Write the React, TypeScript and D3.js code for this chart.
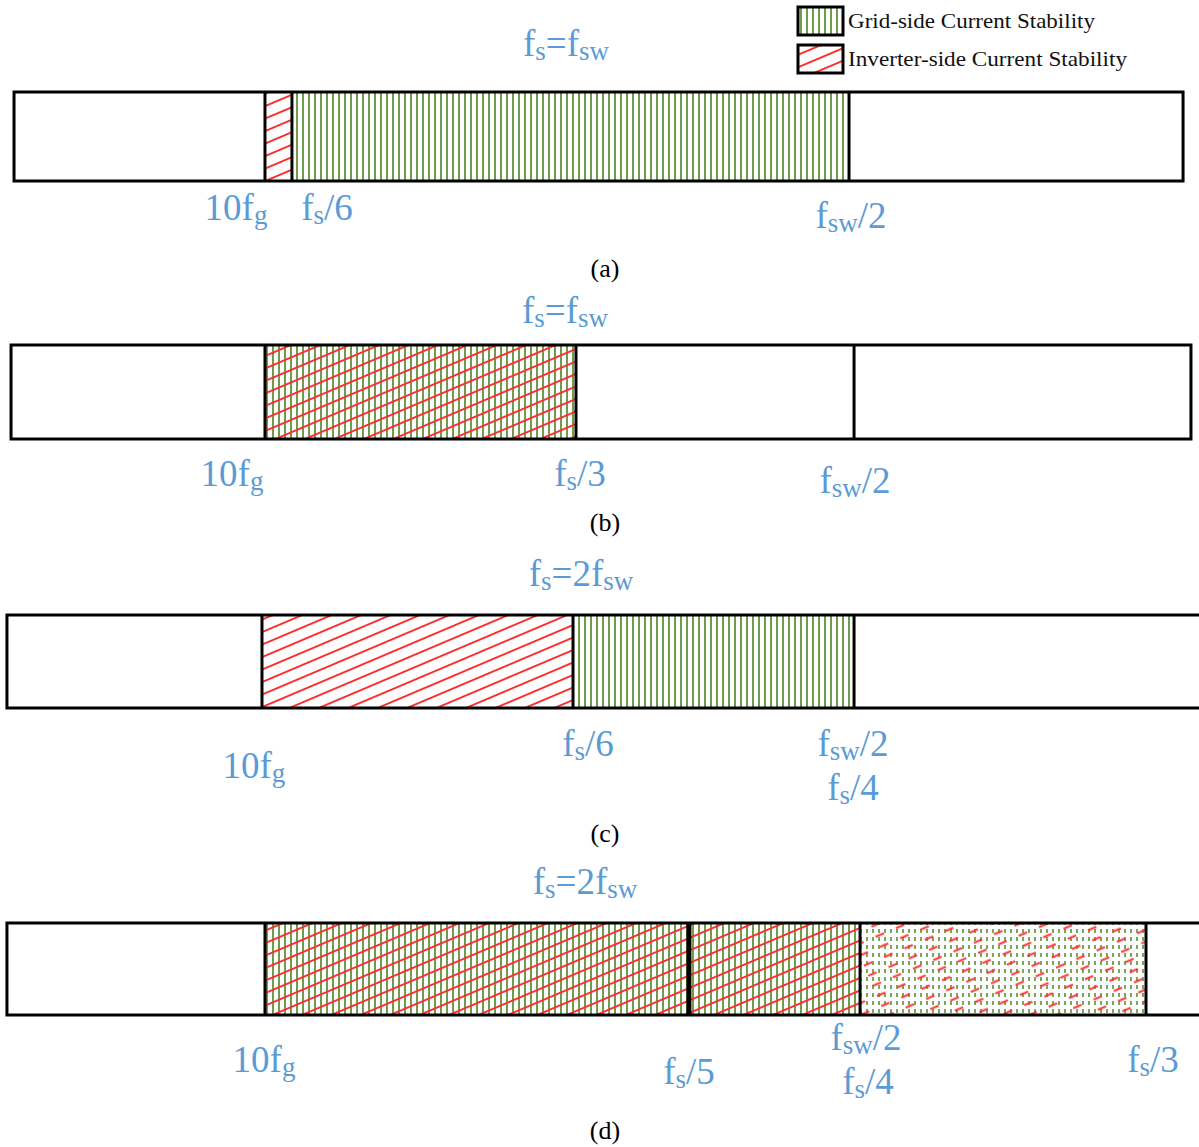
import React from "react";
import * as d3 from "d3";

// ---- data (horizontal positions in % of figure width) ----
const panelNames = ["(a)", "(b)", "(c)", "(d)"];
const barStart = [1.17, 0.92, 0.58, 0.58];
const barEnd = [98.67, 99.33, 100.3, 100.3];
const boundaries = [
  [22.1, 24.35, 70.81],
  [22.1, 48.04, 71.23],
  [21.85, 47.79, 71.23],
  [22.1, 57.46, 71.73, 95.58],
];
const boldBoundary = [[], [], [], [57.46]];
// shaded regions: [from, to, kind]
const regionsA = [[22.1, 24.35, "red"], [24.35, 70.81, "green"]];
const regionsB = [[22.1, 48.04, "both"]];
const regionsC = [[21.85, 47.79, "red"], [47.79, 71.23, "green"]];
const regionsD = [[22.1, 57.46, "both"], [57.46, 71.73, "both"], [71.73, 95.58, "dotted"]];
const regions = [regionsA, regionsB, regionsC, regionsD];
const titles = ["f_{s}=f_{sw}", "f_{s}=f_{sw}", "f_{s}=2f_{sw}", "f_{s}=2f_{sw}"];
const titleX = [47.21, 47.12, 48.46, 48.79];
// tick labels: [text, x%, row]
const labelsA = [["10f_{g}", 19.68, 0], ["f_{s}/6", 27.27, 0], ["f_{sw}/2", 70.98, 1]];
const labelsB = [["10f_{g}", 19.35, 0], ["f_{s}/3", 48.37, 0], ["f_{sw}/2", 71.31, 1]];
const labelsC = [["10f_{g}", 21.18, 1], ["f_{s}/6", 49.04, 0], ["f_{sw}/2", 71.14, 0], ["f_{s}/4", 71.14, 2]];
const labelsD = [["10f_{g}", 22.02, 1], ["f_{s}/5", 57.46, 2], ["f_{sw}/2", 72.23, 0], ["f_{s}/4", 72.39, 3], ["f_{s}/3", 96.16, 1]];
const tickLabels = [labelsA, labelsB, labelsC, labelsD];
const legendItems = ["Grid-side Current Stability", "Inverter-side Current Stability"];
const legendKinds = ["green", "red"];

// ---- layout ----
const W = 1199;
const H = 1147;
const barTop = [92, 345, 615, 923];
const barH = [89, 94, 93, 92];
const titleBase = [56, 323, 586, 894];
const labelRows = [
  [220, 228],
  [486, 493],
  [756, 778, 800],
  [1050, 1072, 1084, 1094],
];
const captionBase = [277, 531, 842, 1139];
const legendTextLen = [247, 279];

const GREEN = "#6e9c4a";
const RED = "#ff2e2e";
const BLUE = "#5b9bd5";
const SERIF = "'Liberation Serif', 'Times New Roman', serif";

const x = d3.scaleLinear().domain([0, 100]).range([0, W]);

function Rich({ text, size, sub }: { text: string; size: number; sub: number }) {
  const parts: { t: string; s: boolean }[] = [];
  const re = /_\{([^}]*)\}/g;
  let last = 0;
  let m;
  while ((m = re.exec(text))) {
    if (m.index > last) parts.push({ t: text.slice(last, m.index), s: false });
    parts.push({ t: m[1], s: true });
    last = m.index + m[0].length;
  }
  if (last < text.length) parts.push({ t: text.slice(last), s: false });
  let prevSub = false;
  return (
    <>
      {parts.map((p, i) => {
        let dy = 0;
        if (p.s && !prevSub) dy = 4;
        if (!p.s && prevSub) dy = -4;
        prevSub = p.s;
        return (
          <tspan key={i} dy={dy} fontSize={p.s ? sub : size}>
            {p.t}
          </tspan>
        );
      })}
    </>
  );
}

function Fill({ kind, x0, x1, y, h }: any) {
  const w = x1 - x0;
  if (kind === "green") return <rect x={x0} y={y} width={w} height={h} fill="url(#pGreen)" />;
  if (kind === "red") return <rect x={x0} y={y} width={w} height={h} fill="url(#pRed)" />;
  if (kind === "both")
    return (
      <g>
        <rect x={x0} y={y} width={w} height={h} fill="url(#pGreen)" />
        <rect x={x0} y={y} width={w} height={h} fill="url(#pRed)" />
      </g>
    );
  return (
    <g>
      <rect x={x0} y={y} width={w} height={h} fill="url(#pGreenDot)" />
      <rect x={x0} y={y} width={w} height={h} fill="url(#pRedDash)" />
    </g>
  );
}

export default function App() {
  return (
    <svg
      width={W}
      height={H}
      viewBox={`0 0 ${W} ${H}`}
      style={{ position: "absolute", left: 0, top: 0, background: "#fff" }}
    >
      <defs>
        <pattern id="pGreen" patternUnits="userSpaceOnUse" width={6} height={10}>
          <line x1={3} y1={0} x2={3} y2={10} stroke={GREEN} strokeWidth={2} />
        </pattern>
        <pattern id="pRed" patternUnits="userSpaceOnUse" width={40} height={11.5} patternTransform="rotate(-23)">
          <line x1={0} y1={5.75} x2={40} y2={5.75} stroke={RED} strokeWidth={1.9} />
        </pattern>
        <pattern id="pGreenDot" patternUnits="userSpaceOnUse" width={6} height={8}>
          <line x1={3} y1={1} x2={3} y2={5} stroke={GREEN} strokeWidth={1.8} />
        </pattern>
        <pattern id="pRedDash" patternUnits="userSpaceOnUse" width={22} height={11} patternTransform="rotate(-23)">
          <line x1={0} y1={5.5} x2={9} y2={5.5} stroke={RED} strokeWidth={2} />
        </pattern>
      </defs>
      <rect x={0} y={0} width={W} height={H} fill="#fff" />

      {/* legend */}
      {legendItems.map((t, i) => (
        <g key={t}>
          <rect x={798} y={7 + i * 38} width={45} height={28} fill="#fff" />
          <Fill kind={legendKinds[i]} x0={798} x1={843} y={7 + i * 38} h={28} />
          <rect x={798} y={7 + i * 38} width={45} height={28} fill="none" stroke="#000" strokeWidth={3} />
          <text
            x={848}
            y={28 + i * 38}
            fontFamily={SERIF}
            fontSize={21}
            fill="#111"
            textLength={legendTextLen[i]}
            lengthAdjust="spacingAndGlyphs"
          >
            {t}
          </text>
        </g>
      ))}

      {panelNames.map((name, p) => {
        const y = barTop[p];
        const h = barH[p];
        return (
          <g key={name}>
            {regions[p].map((r: any, i: number) => (
              <Fill key={i} kind={r[2]} x0={x(r[0])} x1={x(r[1])} y={y} h={h} />
            ))}
            <rect
              x={x(barStart[p])}
              y={y}
              width={x(barEnd[p]) - x(barStart[p])}
              height={h}
              fill="none"
              stroke="#000"
              strokeWidth={3}
            />
            {boundaries[p].map((b, i) => (
              <line
                key={i}
                x1={x(b)}
                x2={x(b)}
                y1={y}
                y2={y + h}
                stroke="#000"
                strokeWidth={boldBoundary[p].includes(b) ? 5 : 3}
              />
            ))}
            <text x={x(titleX[p])} y={titleBase[p]} textAnchor="middle" fontFamily={SERIF} fontSize={37} fill={BLUE}>
              <Rich text={titles[p]} size={37} sub={27} />
            </text>
            {tickLabels[p].map((l: any, i: number) => (
              <text
                key={i}
                x={x(l[1])}
                y={labelRows[p][l[2]]}
                textAnchor="middle"
                fontFamily={SERIF}
                fontSize={37}
                fill={BLUE}
              >
                <Rich text={l[0]} size={37} sub={27} />
              </text>
            ))}
            <text x={605} y={captionBase[p]} textAnchor="middle" fontFamily={SERIF} fontSize={26} fill="#000">
              {name}
            </text>
          </g>
        );
      })}
    </svg>
  );
}
